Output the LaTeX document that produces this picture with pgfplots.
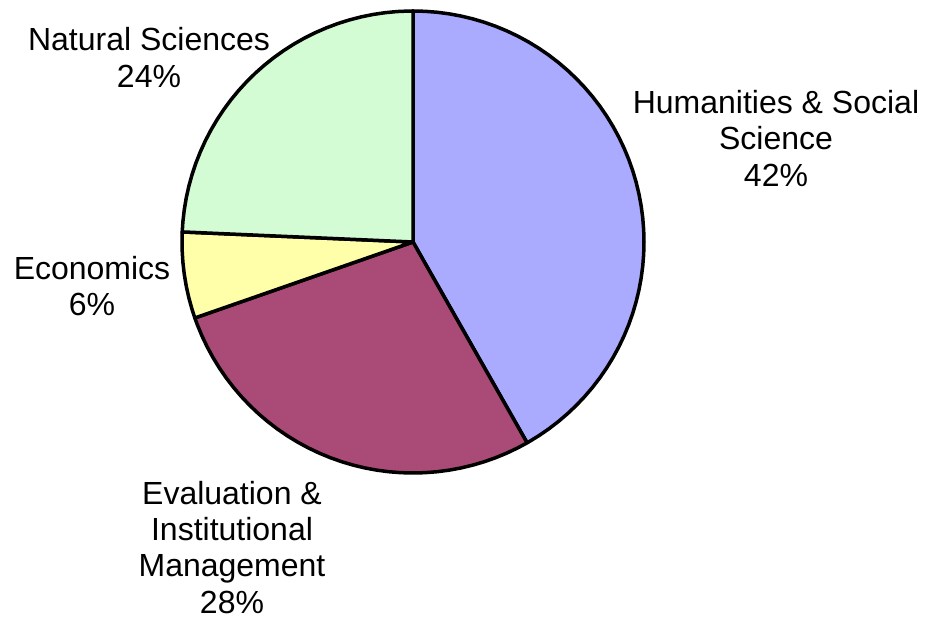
\documentclass[border=0pt]{standalone}
\usepackage{pgfplots}
\pgfplotsset{compat=1.18}
\usepackage{fontspec}
\setmainfont{Liberation Sans}
\definecolor{humc}{RGB}{170,170,255}
\definecolor{evalc}{RGB}{170,74,119}
\definecolor{econc}{RGB}{255,255,170}
\definecolor{natc}{RGB}{212,252,212}
\begin{document}
\begin{tikzpicture}
\useasboundingbox (0,0) rectangle (927bp,618bp);
\begin{axis}[at={(182bp,145bp)}, anchor=south west, scale only axis,
  width=462bp, height=462bp, xmin=-1, xmax=1, ymin=-1, ymax=1,
  hide axis, clip=false]
\pgfplotsset{every axis plot/.append style={mark=none, draw=black, line width=3.5bp, line join=round}}
% Humanities & Social Science 41.8%
\addplot[data cs=polar, fill=humc] coordinates {(0,0) (90,1) (87,1) (84,1) (81,1) (78,1) (75,1) (72,1) (69,1) (66,1) (63,1) (60,1) (57,1) (54,1) (51,1) (48,1) (45,1) (42,1) (39,1) (36,1) (33,1) (30,1) (27,1) (24,1) (21,1) (18,1) (15,1) (12,1) (9,1) (6,1) (3,1) (0,1) (-3,1) (-6,1) (-9,1) (-12,1) (-15,1) (-18,1) (-21,1) (-24,1) (-27,1) (-30,1) (-33,1) (-36,1) (-39,1) (-42,1) (-45,1) (-48,1) (-51,1) (-54,1) (-57,1) (-60,1) (-60.4,1)} -- cycle;
% Evaluation & Institutional Management 27.9%
\addplot[data cs=polar, fill=evalc] coordinates {(0,0) (-60.4,1) (-63,1) (-66,1) (-69,1) (-72,1) (-75,1) (-78,1) (-81,1) (-84,1) (-87,1) (-90,1) (-93,1) (-96,1) (-99,1) (-102,1) (-105,1) (-108,1) (-111,1) (-114,1) (-117,1) (-120,1) (-123,1) (-126,1) (-129,1) (-132,1) (-135,1) (-138,1) (-141,1) (-144,1) (-147,1) (-150,1) (-153,1) (-156,1) (-159,1) (-160.8,1)} -- cycle;
% Economics 6.0%
\addplot[data cs=polar, fill=econc] coordinates {(0,0) (-160.8,1) (-163,1) (-166,1) (-169,1) (-172,1) (-175,1) (-178,1) (-181,1) (-182.5,1)} -- cycle;
% Natural Sciences 24.3%
\addplot[data cs=polar, fill=natc] coordinates {(0,0) (-182.5,1) (-185,1) (-188,1) (-191,1) (-194,1) (-197,1) (-200,1) (-203,1) (-206,1) (-209,1) (-212,1) (-215,1) (-218,1) (-221,1) (-224,1) (-227,1) (-230,1) (-233,1) (-236,1) (-239,1) (-242,1) (-245,1) (-248,1) (-251,1) (-254,1) (-257,1) (-260,1) (-263,1) (-266,1) (-269,1) (-270,1)} -- cycle;
\end{axis}
\begin{scope}[every node/.style={anchor=base, inner sep=0pt, font=\fontsize{32bp}{36bp}\selectfont}]
\node at (149bp,567bp) {Natural Sciences};
\node at (149bp,530bp) {24\%};
\node at (92bp,338bp) {Economics};
\node at (92bp,302bp) {6\%};
\node at (232bp,113bp) {Evaluation \&};
\node at (232bp,77bp) {Institutional};
\node at (232bp,41bp) {Management};
\node at (232bp,5bp) {28\%};
\node at (776bp,504bp) {Humanities \& Social};
\node at (776bp,468bp) {Science};
\node at (776bp,431bp) {42\%};
\end{scope}
\end{tikzpicture}
\end{document}
